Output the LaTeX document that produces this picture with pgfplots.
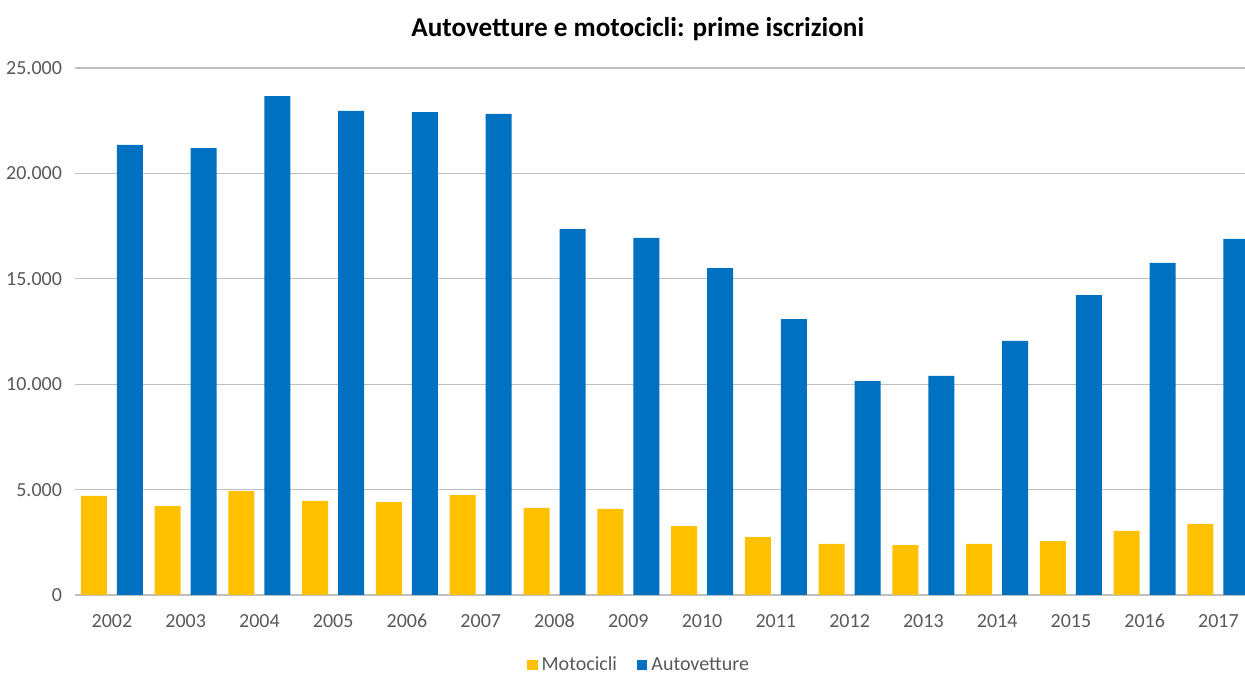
\documentclass[border=0pt]{standalone}
\usepackage{pgfplots}
\pgfplotsset{compat=1.18}
\usepackage{fontspec}
\setmainfont{Carlito}
\definecolor{moto}{HTML}{FFC000}
\definecolor{auto}{HTML}{0070C0}
\definecolor{txt}{HTML}{595959}
\definecolor{grid}{HTML}{B4B4B4}
\begin{document}
\begin{tikzpicture}
\useasboundingbox (0pt,0pt) rectangle (622.5pt,336.5pt);
\begin{axis}[
  at={(37.5pt,39pt)}, anchor=south west,
  scale only axis, width=585pt, height=263.5pt,
  xmin=-0.5, xmax=15.36, ymin=0, ymax=25000,
  xtick={0,...,15},
  xticklabels={2002,2003,2004,2005,2006,2007,2008,2009,2010,2011,2012,2013,2014,2015,2016,2017},
  ytick={0,5000,10000,15000,20000,25000},
  /pgf/number format/assume math mode=true,
  /pgf/number format/.cd, 1000 sep={.}, /pgfplots/.cd,
  scaled y ticks=false,
  ymajorgrids, xmajorgrids=false, grid style={grid, line width=0.6pt},
  axis line style={draw=none},
  axis x line*=bottom,
  x axis line style={grid, line width=0.6pt},
  major tick length=0pt,
  tick label style={font=\fontsize{10}{12}\selectfont, text=txt},
  xticklabel style={yshift=-6pt},
  yticklabel style={xshift=-3pt},
  ybar, bar width=13pt,
  clip=true,
  legend style={at={(0.483,-0.133)}, anchor=center, draw=none, fill=none,
    legend columns=2, font=\fontsize{10}{12}\selectfont, text=txt,
    /tikz/every even column/.append style={column sep=8pt}},
  legend image code/.code={\fill[#1] (0pt,-2.6pt) rectangle (5.2pt,2.6pt);},
  title={\fontsize{13.6}{16}\selectfont\bfseries Autovetture e motocicli: prime iscrizioni},
  title style={at={(0.481,1)}, anchor=center, yshift=13.5pt, text=black},
]
\addplot[fill=moto, draw=none, bar shift=-9pt] coordinates {
(0,4700) (1,4220) (2,4930) (3,4460) (4,4410) (5,4740) (6,4130) (7,4080)
(8,3270) (9,2750) (10,2420) (11,2370) (12,2420) (13,2560) (14,3040) (15,3370)};
\addlegendentry{Motocicli}
\addplot[fill=auto, draw=none, bar shift=9pt] coordinates {
(0,21350) (1,21200) (2,23670) (3,22960) (4,22910) (5,22820) (6,17360) (7,16940)
(8,15510) (9,13090) (10,10150) (11,10390) (12,12050) (13,14230) (14,15750) (15,16890)};
\addlegendentry{Autovetture}
\end{axis}
\end{tikzpicture}
\end{document}
